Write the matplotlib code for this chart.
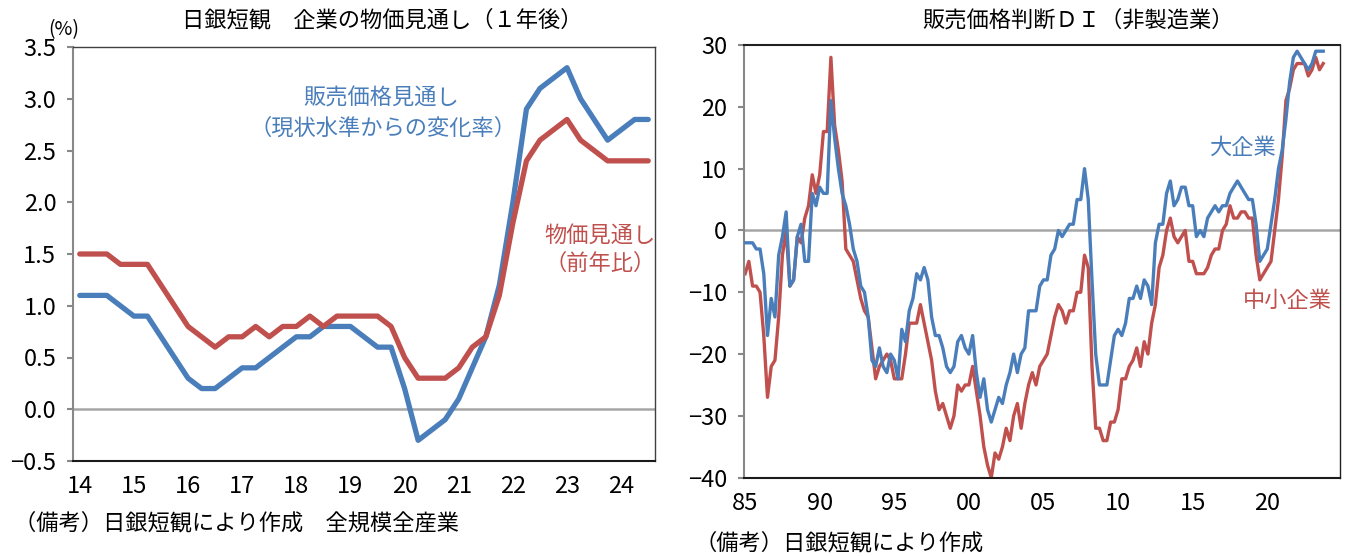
import numpy as np
import matplotlib
matplotlib.use('Agg')
import matplotlib.pyplot as plt

plt.rcParams['font.family'] = ['Noto Sans CJK JP', 'DejaVu Sans']
NUM_FONT = ['Liberation Sans Narrow', 'Noto Sans CJK JP', 'DejaVu Sans']

BLUE = '#4A7EBB'
RED = '#C0504D'
W, H = 1352, 556

# ---- left chart: quarterly, 2014Q1 .. 2024Q3
left_labels = ['14', '15', '16', '17', '18', '19', '20', '21', '22', '23', '24']
sales_outlook = [1.1, 1.1, 1.1, 1.0, 0.9, 0.9, 0.7, 0.5, 0.3, 0.2, 0.2, 0.3, 0.4, 0.4,
                 0.5, 0.6, 0.7, 0.7, 0.8, 0.8, 0.8, 0.7, 0.6, 0.6, 0.2, -0.3, -0.2, -0.1,
                 0.1, 0.4, 0.7, 1.2, 2.0, 2.9, 3.1, 3.2, 3.3, 3.0, 2.8, 2.6, 2.7, 2.8, 2.8]
price_outlook = [1.5, 1.5, 1.5, 1.4, 1.4, 1.4, 1.2, 1.0, 0.8, 0.7, 0.6, 0.7, 0.7, 0.8,
                 0.7, 0.8, 0.8, 0.9, 0.8, 0.9, 0.9, 0.9, 0.9, 0.8, 0.5, 0.3, 0.3, 0.3,
                 0.4, 0.6, 0.7, 1.1, 1.8, 2.4, 2.6, 2.7, 2.8, 2.6, 2.5, 2.4, 2.4, 2.4, 2.4]
left_yticks = [-0.5, 0.0, 0.5, 1.0, 1.5, 2.0, 2.5, 3.0, 3.5]

# ---- right chart: quarterly, 1985Q4 .. 2024Q3
right_labels = ['85', '90', '95', '00', '05', '10', '15', '20']
di_large = [-2, -2, -2, -3, -3, -7, -17, -11, -14, -4,
            -1, 3, -9, -8, -1, 1, -5, -5, 6, 4,
            7, 6, 6, 21, 15, 10, 6, 4, 1, -3,
            -5, -9, -10, -14, -21, -22, -19, -22, -23, -20,
            -21, -24, -16, -18, -13, -11, -7, -8, -6, -8,
            -14, -17, -17, -19, -22, -23, -22, -18, -17, -19,
            -20, -17, -23, -27, -24, -29, -31, -29, -27, -28,
            -25, -23, -20, -23, -20, -19, -13, -13, -13, -9,
            -8, -8, -4, -3, 0, -1, 0, 1, 1, 5,
            5, 10, 5, -8, -20, -25, -25, -25, -21, -17,
            -16, -17, -15, -11, -11, -9, -11, -8, -9, -12,
            -2, 1, 1, 6, 8, 4, 5, 7, 7, 4,
            4, -1, 0, -1, 2, 3, 4, 3, 4, 4,
            6, 7, 8, 7, 6, 5, 5, 1, -5, -4,
            -3, 1, 5, 10, 13, 18, 24, 28, 29, 28,
            27, 26, 27, 29, 29, 29]
di_small = [-7, -5, -9, -9, -10, -17, -27, -22, -21, -14,
            -4, 0, -9, -8, -1, -2, 2, 4, 9, 6,
            9, 16, 16, 28, 17, 13, 8, -3, -4, -5,
            -8, -11, -13, -14, -19, -24, -22, -21, -20, -21,
            -24, -24, -24, -20, -15, -15, -15, -12, -15, -18,
            -21, -26, -29, -28, -30, -32, -30, -25, -26, -25,
            -25, -22, -26, -30, -35, -38, -40, -36, -37, -35,
            -32, -34, -30, -28, -32, -28, -25, -23, -25, -22,
            -21, -20, -17, -14, -12, -13, -15, -13, -13, -10,
            -10, -4, -6, -22, -32, -32, -34, -34, -31, -31,
            -29, -24, -24, -22, -21, -19, -22, -18, -20, -15,
            -12, -6, -4, 0, 2, -1, -2, -1, 0, -5,
            -5, -7, -7, -7, -6, -4, -3, -3, 0, 1,
            4, 2, 2, 3, 3, 2, 2, -4, -8, -7,
            -6, -5, 0, 5, 12, 21, 23, 26, 27, 27,
            27, 25, 26, 28, 26, 27]
right_yticks = [-40, -30, -20, -10, 0, 10, 20, 30]


def fx(x):
    return x / W


def fy(y):
    return 1 - y / H


def fmt(v, nd):
    s = f"{abs(v):.{nd}f}"
    return ('\u2212' + s) if v < 0 else s


def style_axes(ax, top_color):
    for side in ['top', 'right']:
        ax.spines[side].set_color(top_color)
        ax.spines[side].set_linewidth(1.0)
    ax.spines['bottom'].set_color('#1a1a1a')
    ax.spines['bottom'].set_linewidth(1.5)
    ax.spines['left'].set_color('#888888')
    ax.spines['left'].set_linewidth(1.5)
    ax.tick_params(axis='y', direction='out', length=4, width=1.5, color='#888888', pad=8)
    ax.tick_params(axis='x', length=0, pad=10)
    for lab in ax.get_xticklabels() + ax.get_yticklabels():
        lab.set_family(NUM_FONT)
        lab.set_fontsize(17)


fig = plt.figure(figsize=(W / 100, H / 100), dpi=100)

# left chart
ax1 = fig.add_axes([fx(73), fy(461), fx(655) - fx(73), fy(47) - fy(461)])
x1 = np.arange(len(sales_outlook))
ax1.axhline(0, color='#A6A6A6', lw=1.8, zorder=1)
ax1.plot(x1, price_outlook, color=RED, lw=3.8, solid_capstyle='round', zorder=3)
ax1.plot(x1, sales_outlook, color=BLUE, lw=3.8, solid_capstyle='round', zorder=2)
ax1.set_xlim(-0.5, len(sales_outlook) - 0.5)
ax1.set_ylim(-0.5, 3.5)
ax1.set_xticks(np.arange(0, len(sales_outlook), 4))
ax1.set_xticklabels(left_labels)
ax1.set_yticks(left_yticks)
ax1.set_yticklabels([fmt(v, 1) for v in left_yticks])
style_axes(ax1, '#404040')

# right chart
ax2 = fig.add_axes([fx(744), fy(477.7), fx(1340) - fx(744), fy(45) - fy(477.7)])
x2 = np.arange(len(di_large))
ax2.axhline(0, color='#A6A6A6', lw=1.8, zorder=1)
ax2.plot(x2, di_small, color=RED, lw=2.4, zorder=2)
ax2.plot(x2, di_large, color=BLUE, lw=2.4, zorder=3)
ax2.set_xlim(-0.3, 159.5)
ax2.set_ylim(-40, 30)
ax2.set_xticks(np.arange(0, 20 * len(right_labels), 20))
ax2.set_xticklabels(right_labels)
ax2.set_yticks(right_yticks)
ax2.set_yticklabels([fmt(v, 0) for v in right_yticks])
style_axes(ax2, '#202020')
ax2.spines['top'].set_linewidth(1.5)

# titles and notes
fig.text(fx(382), fy(20), '日銀短観　企業の物価見通し（１年後）', fontsize=16,
         ha='center', va='center')
fig.text(fx(1078), fy(20), '販売価格判断ＤＩ（非製造業）', fontsize=16,
         ha='center', va='center')
fig.text(fx(64), fy(30), '(%)', fontsize=14, ha='center', va='center')
fig.text(fx(14), fy(523), '（備考）日銀短観により作成　全規模全産業', fontsize=16,
         ha='left', va='center')
fig.text(fx(694), fy(543), '（備考）日銀短観により作成', fontsize=16,
         ha='left', va='center')

# series labels
fig.text(fx(381), fy(98), '販売価格見通し', fontsize=16, color=BLUE, ha='center', va='center')
fig.text(fx(383), fy(128), '（現状水準からの変化率）', fontsize=16, color=BLUE,
         ha='center', va='center')
fig.text(fx(600), fy(235), '物価見通し', fontsize=16, color=RED, ha='center', va='center')
fig.text(fx(600), fy(263), '（前年比）', fontsize=16, color=RED, ha='center', va='center')
fig.text(fx(1242), fy(147), '大企業', fontsize=16, color=BLUE, ha='center', va='center')
fig.text(fx(1287), fy(300), '中小企業', fontsize=16, color=RED, ha='center', va='center')

fig.savefig('out.png', dpi=100)
